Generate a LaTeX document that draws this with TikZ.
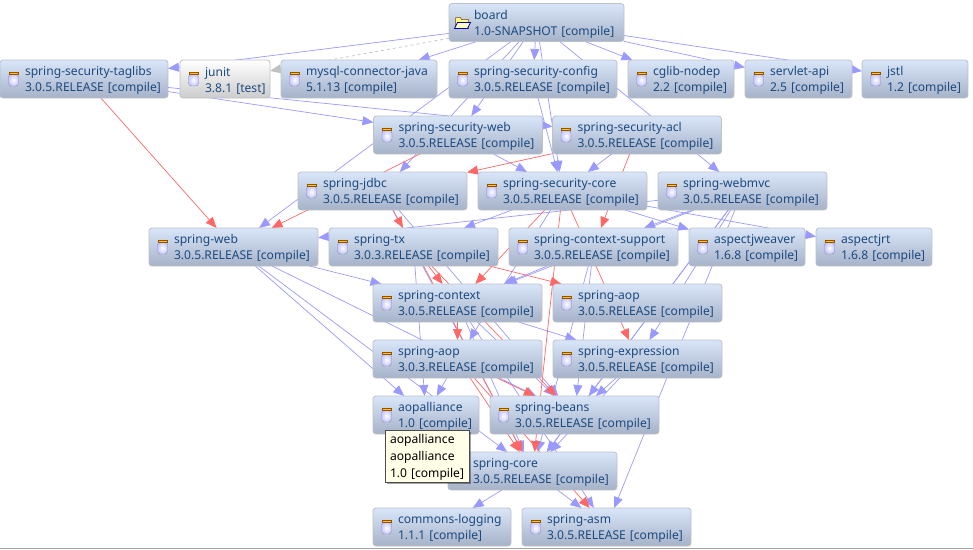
\documentclass[tikz,border=0pt]{standalone}
\usepackage{fontspec}
\setmainfont{Noto Sans}
\usetikzlibrary{arrows.meta,backgrounds,positioning,shadows}
\definecolor{boxline}{HTML}{BDC1C8}
\definecolor{boxtop}{HTML}{D9E5F8}
\definecolor{boxbot}{HTML}{A6B2C8}
\definecolor{pomtext}{HTML}{1C4A80}
\definecolor{depblue}{HTML}{9999FF}
\definecolor{depred}{HTML}{FF6666}
\definecolor{deptest}{HTML}{C0C0C0}
\newcommand{\down}[1]{\raisebox{-1.7pt}[\height][\depth]{#1}}
\newcommand{\dep}[2]{\hspace*{25pt}\down{#1}\\\hspace*{25pt}\down{#2}}
\tikzset{
	pom/.style={rectangle, draw=boxline, line width=.8pt, rounded corners=3pt, top color=boxtop, bottom color=boxbot,
		text=pomtext, text width=#1, inner xsep=0pt, inner ysep=0pt, outer sep=0pt, minimum height=38pt, align=left,
		font=\fontsize{12.1}{16}\selectfont},
	testpom/.style={pom=#1, top color=white, bottom color=black!20},
	tip/.style={rectangle, draw=black!70, fill=yellow!10, text=black, text width=84pt, inner xsep=0pt, inner ysep=0pt,
		outer sep=0pt, minimum height=52pt, align=left, font=\fontsize{12.1}{17}\selectfont,
		drop shadow={shadow xshift=2pt, shadow yshift=-2pt, fill=black, opacity=.35}},
	plain/.style={line width=.7pt, depblue, -{Triangle[length=11pt,width=9pt]}},
	conflict/.style={line width=.7pt, depred, -{Triangle[length=11pt,width=9pt]}},
	testdep/.style={line width=.7pt, deptest, dashed, -{Triangle[length=11pt,width=9pt]}},
	jar/.pic={
		\draw[draw=blue!30!black!45, rounded corners=3pt, inner color=white, outer color=blue!22] (-5,-5) rectangle (5,7);
		\draw[draw=orange!60!black, fill=yellow!70!orange, line width=.5pt] (-4.5,-7) rectangle (4.5,-5);
	},
	folder/.pic={
		\draw[draw=orange!50!black, fill=yellow!45, line width=.5pt] (-7,6) -- (-7,-5) -- (-2,-5) -- (-1,-3) -- (6,-3) -- (6,6) -- cycle;
		\draw[draw=blue!70!black, fill=yellow!25, line width=.7pt] (-8,6) -- (-5,0) -- (8,0) -- (5,6) -- cycle;
	}
}
\begin{document}
\begin{tikzpicture}[x=1pt, y=-1pt, node distance=11pt]
	\useasboundingbox (0,0) rectangle (973,549);

	\node[pom=175] (board) at (536.5,22.5) {\dep{board}{1.0-SNAPSHOT [compile]}};

	\node[pom=168] (taglibs) at (84,79) {\dep{spring-security-taglibs}{3.0.5.RELEASE [compile]}};
	\node[testpom=90] (junit) [right=12pt of taglibs] {\dep{junit}{3.8.1 [test]}};
	\node[pom=156] (mysql) [right=of junit] {\dep{mysql-connector-java}{5.1.13 [compile]}};
	\node[pom=168] (config) [right=12pt of mysql] {\dep{spring-security-config}{3.0.5.RELEASE [compile]}};
	\node[pom=106] (cglib) [right=of config] {\dep{cglib-nodep}{2.2 [compile]}};
	\node[pom=107] (servlet) [right=of cglib] {\dep{servlet-api}{2.5 [compile]}};
	\node[pom=106] (jstl) [right=10pt of servlet] {\dep{jstl}{1.2 [compile]}};

	\node[pom=169] (secweb) at (458,135) {\dep{spring-security-web}{3.0.5.RELEASE [compile]}};
	\node[pom=169] (acl) [right=10pt of secweb] {\dep{spring-security-acl}{3.0.5.RELEASE [compile]}};

	\node[pom=169] (jdbc) at (382.5,191) {\dep{spring-jdbc}{3.0.5.RELEASE [compile]}};
	\node[pom=169] (seccore) [right=of jdbc] {\dep{spring-security-core}{3.0.5.RELEASE [compile]}};
	\node[pom=169] (webmvc) [right=of seccore] {\dep{spring-webmvc}{3.0.5.RELEASE [compile]}};

	\node[pom=169] (web) at (233.5,247) {\dep{spring-web}{3.0.5.RELEASE [compile]}};
	\node[pom=169] (tx) [right=of web] {\dep{spring-tx}{3.0.3.RELEASE [compile]}};
	\node[pom=169] (ctxsup) [right=of tx] {\dep{spring-context-support}{3.0.5.RELEASE [compile]}};
	\node[pom=116] (weaver) [right=of ctxsup] {\dep{aspectjweaver}{1.6.8 [compile]}};
	\node[pom=116] (rt) [right=of weaver] {\dep{aspectjrt}{1.6.8 [compile]}};

	\node[pom=169] (ctx) at (457.5,303) {\dep{spring-context}{3.0.5.RELEASE [compile]}};
	\node[pom=169] (aopnew) [right=11pt of ctx] {\dep{spring-aop}{3.0.5.RELEASE [compile]}};

	\node[pom=169] (aopold) at (457.5,359) {\dep{spring-aop}{3.0.3.RELEASE [compile]}};
	\node[pom=169] (expr) [right=11pt of aopold] {\dep{spring-expression}{3.0.5.RELEASE [compile]}};

	\node[pom=106] (alliance) at (426,415) {\dep{aopalliance}{1.0 [compile]}};
	\node[pom=169] (beans) [right=of alliance] {\dep{spring-beans}{3.0.5.RELEASE [compile]}};

	\node[pom=169] (core) at (532.5,471) {\dep{spring-core}{3.0.5.RELEASE [compile]}};

	\node[pom=138] (logging) at (442,527) {\dep{commons-logging}{1.1.1 [compile]}};
	\node[pom=169] (asm) [right=of logging] {\dep{spring-asm}{3.0.5.RELEASE [compile]}};

	\foreach \n in {taglibs,junit,mysql,config,cglib,servlet,jstl,secweb,acl,jdbc,seccore,webmvc,web,tx,ctxsup,weaver,rt,ctx,aopnew,aopold,expr,alliance,beans,core,logging,asm}
		\pic at ([xshift=13.5pt]\n.west) {jar};
	\pic at ([xshift=13.5pt]board.west) {folder};

	\begin{scope}[on background layer]
		\draw[plain] (board) edge (taglibs)
			(board) edge (mysql)
			(board) edge (config)
			(board) edge (cglib)
			(board) edge (servlet)
			(board) edge (jstl)
			(board) edge (secweb)
			(board) edge (jdbc)
			(board) edge (web)
			(board) edge (seccore)
			(board) edge (webmvc)

			(config) edge (seccore)

			(taglibs) edge (secweb)
			(taglibs) edge (acl)

			(secweb) edge (seccore)

			(acl) edge (seccore)

			(jdbc) edge (beans)
			(jdbc) edge (core)

			(seccore) edge (tx)
			(seccore) edge (aopold)
			(seccore) edge (weaver)
			(seccore) edge (rt)

			(webmvc) edge (web)
			(webmvc) edge (ctxsup)
			(webmvc) edge (ctx)
			(webmvc) edge (expr)
			(webmvc) edge (beans)
			(webmvc) edge (core)
			(webmvc) edge (asm)

			(web) edge (ctx)
			(web) edge (beans)
			(web) edge (core)
			(web) edge (alliance)

			(tx) edge (alliance)

			(ctxsup) edge (ctx)
			(ctxsup) edge (beans)
			(ctxsup) edge (core)

			(ctx) edge (expr)
			(ctx) edge (beans)
			(ctx) edge (core)
			(ctx) edge (asm)

			(aopold) edge (alliance)

			(expr) edge (beans)
			(expr) edge (core)

			(beans) edge (core)

			(core) edge (logging)
			(core) edge (asm);

		\draw[conflict] (taglibs) edge (web)
			(secweb) edge (web)
			(acl) edge (jdbc)
			(acl) edge (ctxsup)
			(jdbc) edge (tx)
			(seccore) edge (ctx)
			(seccore) edge (core)
			(seccore) edge (expr)
			(tx) edge (ctx)
			(tx) edge (aopnew)
			(tx) edge (beans)
			(tx) edge (core)
			(ctx) edge (aopold)
			(aopold) edge (beans)
			(aopold) edge (core)
			(aopold) edge (asm);

		\draw[testdep] (board) edge (junit);
	\end{scope}

	\node[tip] (hover) at (427,456) {\hspace*{5pt}\down{aopalliance}\\\hspace*{5pt}\down{aopalliance}\\\hspace*{5pt}\down{1.0 [compile]}};

	\coordinate (edgeleft) at (0,548);
	\coordinate (edgeright) at (973,548);
	\draw[black!35, line width=.8pt] (edgeleft) -- (edgeright);
\end{tikzpicture}
\end{document}
